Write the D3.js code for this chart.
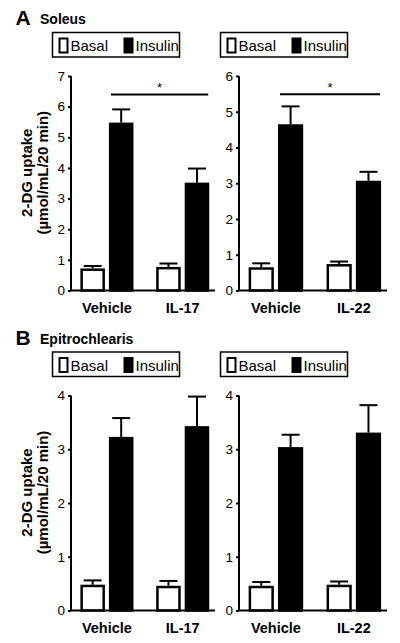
<!DOCTYPE html>
<html>
<head>
<meta charset="utf-8">
<script src="https://cdn.jsdelivr.net/npm/d3@7"></script>
<style>
  html, body { margin: 0; padding: 0; background: #fff; }
  svg { display: block; font-family: "Liberation Sans", Arial, Helvetica, sans-serif; }
</style>
</head>
<body>
<svg id="chart" width="400" height="643"></svg>
<script>
// ---- data ----
const series = ["Basal", "Insulin"];
const groupsIL17 = ["Vehicle", "IL-17"];
const groupsIL22 = ["Vehicle", "IL-22"];

// Soleus
const soleusIL17Basal = [0.72, 0.77];
const soleusIL17BasalErr = [0.08, 0.11];
const soleusIL17Insulin = [5.48, 3.52];
const soleusIL17InsulinErr = [0.43, 0.46];
const soleusIL22Basal = [0.65, 0.74];
const soleusIL22BasalErr = [0.11, 0.07];
const soleusIL22Insulin = [4.65, 3.07];
const soleusIL22InsulinErr = [0.50, 0.25];

// Epitrochlearis
const epiIL17Basal = [0.48, 0.46];
const epiIL17BasalErr = [0.08, 0.09];
const epiIL17Insulin = [3.23, 3.43];
const epiIL17InsulinErr = [0.35, 0.55];
const epiIL22Basal = [0.46, 0.48];
const epiIL22BasalErr = [0.07, 0.06];
const epiIL22Insulin = [3.04, 3.31];
const epiIL22InsulinErr = [0.23, 0.51];

const ticksSoleusIL17 = [0, 1, 2, 3, 4, 5, 6, 7];
const ticksSoleusIL22 = [0, 1, 2, 3, 4, 5, 6];
const ticksEpi = [0, 1, 2, 3, 4];

const sigSoleusIL17 = 6.4;
const sigSoleusIL22 = 5.49;

const panelLetters = ["A", "B"];
const panelTitles = ["Soleus", "Epitrochlearis"];
const yTitle1 = "2-DG uptake";
const yTitle2 = "(µmol/mL/20 min)";

// ---- drawing ----
const svg = d3.select("#chart");

function drawPanel(opt) {
  const g = svg.append("g");
  const { x0, x1, yTop, yBot, groups, basal, basalErr, insulin, insulinErr, ticks, sig, showYTitle } = opt;

  const y = d3.scaleLinear().domain([0, ticks[ticks.length - 1]]).range([yBot, yTop]);
  const xg = d3.scaleBand().domain(groups).range([x0, x1])
    .paddingInner(0.3).paddingOuter(0.1).align(0.62);
  const xs = d3.scaleBand().domain(series).range([0, xg.bandwidth()]).paddingInner(0.14);

  const rows = [];
  groups.forEach((gr, i) => {
    rows.push({ g: gr, s: "Basal", v: basal[i], e: basalErr[i] });
    rows.push({ g: gr, s: "Insulin", v: insulin[i], e: insulinErr[i] });
  });

  // error bars (drawn first, upward only)
  const capHalf = 9;
  rows.forEach(r => {
    const cx = xg(r.g) + xs(r.s) + xs.bandwidth() / 2;
    g.append("line").attr("x1", cx).attr("x2", cx)
      .attr("y1", y(r.v)).attr("y2", y(r.v + r.e))
      .attr("stroke", "#000").attr("stroke-width", 2);
    g.append("line").attr("x1", cx - capHalf).attr("x2", cx + capHalf)
      .attr("y1", y(r.v + r.e)).attr("y2", y(r.v + r.e))
      .attr("stroke", "#000").attr("stroke-width", 2);
  });

  // bars
  rows.forEach(r => {
    const bx = xg(r.g) + xs(r.s);
    g.append("rect")
      .attr("x", bx + 1.25).attr("y", y(r.v) + 1.25)
      .attr("width", xs.bandwidth() - 2.5)
      .attr("height", Math.max(0, y(0) - y(r.v) - 1.25))
      .attr("fill", r.s === "Basal" ? "#fff" : "#000")
      .attr("stroke", "#000").attr("stroke-width", 2.5);
  });

  // y axis
  const ya = g.append("g").attr("transform", `translate(${x0},0)`)
    .call(d3.axisLeft(y).tickValues(ticks).tickSize(3).tickPadding(3).tickFormat(d3.format("d")));
  ya.select(".domain").attr("stroke-width", 2).attr("d", `M0,${yTop}V${yBot}`);
  ya.selectAll(".tick line").attr("stroke-width", 2);
  ya.selectAll(".tick text").attr("font-size", 13.5).attr("font-family", "Liberation Sans, Arial, sans-serif").attr("fill", "#000");

  // x axis line
  g.append("line").attr("x1", x0 - 1).attr("x2", x1).attr("y1", yBot).attr("y2", yBot)
    .attr("stroke", "#000").attr("stroke-width", 2);

  // x labels
  groups.forEach(gr => {
    g.append("text").attr("x", xg(gr) + xg.bandwidth() / 2).attr("y", yBot + 22.5)
      .attr("text-anchor", "middle").attr("font-weight", "bold").attr("font-size", 14.5)
      .text(gr);
  });

  // significance
  if (sig != null) {
    const sx1 = xg(groups[0]) + xs("Insulin") + 2;
    const sx2 = xg(groups[1]) + xs("Insulin") + xs.bandwidth() - 1;
    g.append("line").attr("x1", sx1).attr("x2", sx2).attr("y1", y(sig)).attr("y2", y(sig))
      .attr("stroke", "#000").attr("stroke-width", 2);
    g.append("text").attr("x", (sx1 + sx2) / 2).attr("y", y(sig) - 2)
      .attr("text-anchor", "middle").attr("font-size", 13).text("*");
  }

  // legend
  const lx = x0 - 18.5, ly = yTop - 43.5;
  const lg = g.append("g").attr("transform", `translate(${lx},${ly})`);
  lg.append("rect").attr("x", 0).attr("y", 0).attr("width", 127).attr("height", 24.5)
    .attr("fill", "#fff").attr("stroke", "#000").attr("stroke-width", 1.5);
  series.forEach((s, i) => {
    const ox = i === 0 ? 6 : 71;
    lg.append("rect").attr("x", ox + 1).attr("y", 6).attr("width", 8).attr("height", 14)
      .attr("fill", s === "Basal" ? "#fff" : "#000").attr("stroke", "#000").attr("stroke-width", 2);
    lg.append("text").attr("x", ox + 12).attr("y", 18.5).attr("font-size", 15).text(s);
  });

  // y title
  if (showYTitle) {
    const cy = (yTop + yBot) / 2 - 10.5;
    const t = g.append("text").attr("transform", `translate(31.5,${cy}) rotate(-90)`)
      .attr("text-anchor", "middle").attr("font-weight", "bold").attr("font-size", 15);
    t.append("tspan").attr("x", 0).attr("y", 0).text(yTitle1);
    t.append("tspan").attr("x", 0).attr("y", 16).text(yTitle2);
  }
}

function panelHeader(letter, title, baseY) {
  svg.append("text").attr("x", 15.5).attr("y", baseY).attr("font-weight", "bold")
    .attr("font-size", 21).text(letter);
  svg.append("text").attr("x", 40).attr("y", baseY - 1).attr("font-weight", "bold")
    .attr("font-size", 14).text(title);
}

panelHeader(panelLetters[0], panelTitles[0], 25);
panelHeader(panelLetters[1], panelTitles[1], 344.5);

drawPanel({ x0: 71, x1: 215, yTop: 76, yBot: 290.5, groups: groupsIL17,
  basal: soleusIL17Basal, basalErr: soleusIL17BasalErr,
  insulin: soleusIL17Insulin, insulinErr: soleusIL17InsulinErr,
  ticks: ticksSoleusIL17, sig: sigSoleusIL17, showYTitle: true });
drawPanel({ x0: 239, x1: 387, yTop: 76, yBot: 290.5, groups: groupsIL22,
  basal: soleusIL22Basal, basalErr: soleusIL22BasalErr,
  insulin: soleusIL22Insulin, insulinErr: soleusIL22InsulinErr,
  ticks: ticksSoleusIL22, sig: sigSoleusIL22, showYTitle: false });
drawPanel({ x0: 71, x1: 215, yTop: 395.5, yBot: 610.5, groups: groupsIL17,
  basal: epiIL17Basal, basalErr: epiIL17BasalErr,
  insulin: epiIL17Insulin, insulinErr: epiIL17InsulinErr,
  ticks: ticksEpi, sig: null, showYTitle: true });
drawPanel({ x0: 239, x1: 387, yTop: 395.5, yBot: 610.5, groups: groupsIL22,
  basal: epiIL22Basal, basalErr: epiIL22BasalErr,
  insulin: epiIL22Insulin, insulinErr: epiIL22InsulinErr,
  ticks: ticksEpi, sig: null, showYTitle: false });
</script>
</body>
</html>
